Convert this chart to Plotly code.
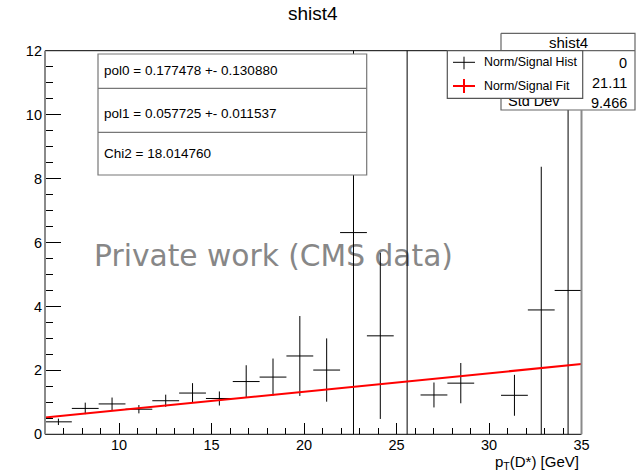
import plotly.graph_objects as go

# ---------------- data ----------------
bin_centers = [6.725, 8.175, 9.625, 11.075, 12.525, 13.975, 15.425, 16.875, 18.325, 19.775,
               21.225, 22.675, 24.125, 25.575, 27.025, 28.475, 29.925, 31.375, 32.825, 34.275]
bin_values = [0.39, 0.81, 0.95, 0.785, 1.05, 1.29, 1.12, 1.65, 1.79, 2.45,
              2.01, 6.31, 3.08, 16.0, 1.23, 1.60, None, 1.22, 3.89, 4.50]
bin_errors = [0.10, 0.18, 0.20, 0.13, 0.19, 0.31, 0.22, 0.51, 0.58, 1.25,
              0.99, 6.6, 2.6, 17.0, 0.39, 0.63, 0, 0.64, 4.48, 8.0]
bin_half_width = 0.725

pol0 = 0.177478
pol0_err = 0.130880
pol1 = 0.057725
pol1_err = 0.011537
chi2 = 18.014760
fit_x = [6, 35]
fit_y = [pol0 + pol1 * x for x in fit_x]

stats_name = "shist4"
stats_labels = ["Entries", "Mean", "Std Dev"]
stats_values = ["0", "21.11", "9.466"]

x_range = [6, 35]
y_range = [0, 12]

# ---------------- geometry helpers (pixels -> paper) ----------------
W, H = 641, 472
def px(x):
    return x / W
def py(y):
    return 1 - y / H

L, R, T, B = 45, 581.5, 50.7, 434.3
FONT = "Liberation Sans, Arial, Helvetica, sans-serif"
SB = dict(x0=501, y0=33.3, x1=635, y1=110)   # stats box (pixels)

fig = go.Figure()

# --- bottom overlay (pixel coords): watermark, below the data
fig.add_trace(go.Scatter(
    x=[273.5], y=[259], mode="text", text=["Private work (CMS data)"],
    textposition="middle center",
    textfont=dict(family="DejaVu Sans", size=29.7, color="#878787"),
    xaxis="x", yaxis="y", showlegend=False, hoverinfo="skip"))

# --- data subplot
fig.add_trace(go.Scatter(
    x=bin_centers, y=bin_values, mode="markers",
    marker=dict(size=0.1, color="black"),
    error_x=dict(type="constant", value=bin_half_width, width=0, thickness=1, color="black"),
    error_y=dict(type="data", array=bin_errors, width=0, thickness=1, color="black"),
    xaxis="x2", yaxis="y2", showlegend=False, hoverinfo="skip"))
fig.add_trace(go.Scatter(
    x=fit_x, y=fit_y, mode="lines", line=dict(color="#ff0000", width=2),
    xaxis="x2", yaxis="y2", showlegend=False, hoverinfo="skip"))

# --- top overlay (pixel coords): stats box, above the data, below legend
fig.add_trace(go.Scatter(
    x=[SB["x0"], SB["x1"], SB["x1"], SB["x0"], SB["x0"]],
    y=[SB["y0"], SB["y0"], SB["y1"], SB["y1"], SB["y0"]],
    mode="lines", fill="toself", fillcolor="white",
    line=dict(color="#666", width=1.2),
    xaxis="x3", yaxis="y3", showlegend=False, hoverinfo="skip"))
fig.add_trace(go.Scatter(
    x=[SB["x0"], SB["x1"]], y=[50.7, 50.7], mode="lines",
    line=dict(color="#666", width=1.2),
    xaxis="x3", yaxis="y3", showlegend=False, hoverinfo="skip"))
fig.add_trace(go.Scatter(
    x=[508, 508, 508], y=[63, 82.5, 102.5], mode="text", text=stats_labels,
    textposition="middle right",
    textfont=dict(family=FONT, size=14.5, color="black"),
    xaxis="x3", yaxis="y3", showlegend=False, hoverinfo="skip"))

shapes = []
def line(x0, y0, x1, y1, color="black", width=1):
    shapes.append(dict(type="line", xref="paper", yref="paper",
                       x0=px(x0), y0=py(y0), x1=px(x1), y1=py(y1),
                       line=dict(color=color, width=width), layer="above"))
def rect(x0, y0, x1, y1, color="#666", width=1.2):
    shapes.append(dict(type="rect", xref="paper", yref="paper",
                       x0=px(x0), y0=py(y0), x1=px(x1), y1=py(y1),
                       line=dict(color=color, width=width), fillcolor="white", layer="above"))

# frame (parts hidden by the stats box are not drawn)
line(L, T, SB["x0"], T, "black", 1)
line(L, B, R, B, "black", 1)
line(L, T, L, B, "#8a8a8a", 2)
line(R, SB["y1"], R, B, "#8a8a8a", 2)

# legend box
rect(447.3, 50.7, 582.7, 98.3, "#555", 1.2)
line(453, 62.3, 475, 62.3, "black", 1)
line(464, 56.7, 464, 69.3, "black", 1)
line(453, 86, 475, 86, "#ff0000", 2)
line(464, 79, 464, 93, "#ff0000", 2)
# fit parameter box
rect(98, 54, 366.7, 175, "#777", 1.2)
line(98, 88.3, 366.7, 88.3, "#777", 1.2)
line(98, 132.3, 366.7, 132.3, "#777", 1.2)

ann = []
def text(x, y, s, size, xanchor="left", color="black", family=FONT):
    ann.append(dict(xref="paper", yref="paper", x=px(x), y=py(y), text=s,
                    showarrow=False, xanchor=xanchor, yanchor="middle",
                    font=dict(family=family, size=size, color=color)))

text(313, 13, "shist4", 19, "center")
text(568, 42.5, stats_name, 15, "center")
for yv, v in zip([63, 82.5, 102.5], stats_values):
    text(629, yv, v, 14.5, "right")
text(482, 62.3, "Norm/Signal Hist", 12.4)
text(482, 86, "Norm/Signal Fit", 12.4)
text(102, 70.5, f"pol0 = {pol0:.6f} +- {pol0_err:.6f}", 13.5)
text(102, 113, f"pol1 = {pol1:.6f} +- {pol1_err:.6f}", 13.5)
text(102, 153.5, f"Chi2 = {chi2:.6f}", 13.5)
text(581, 462, "p<sub>T</sub>(D*) [GeV]", 15, "right")

pix_x = dict(domain=[0, 1], range=[0, W], visible=False, fixedrange=True, automargin=False)
pix_y = dict(domain=[0, 1], range=[H, 0], visible=False, fixedrange=True, automargin=False)

fig.update_layout(
    width=W, height=H, autosize=False,
    margin=dict(l=0, r=0, t=0, b=0, pad=0, autoexpand=False),
    paper_bgcolor="white", plot_bgcolor="rgba(0,0,0,0)",
    showlegend=False,
    shapes=shapes, annotations=ann,
    xaxis=dict(pix_x, anchor="y"),
    yaxis=dict(pix_y, anchor="x"),
    xaxis3=dict(pix_x, anchor="y3"),
    yaxis3=dict(pix_y, anchor="x3"),
    xaxis2=dict(domain=[px(L), px(R)], range=x_range, anchor="y2", automargin=False,
                showgrid=False, zeroline=False, showline=False,
                ticks="inside", ticklen=11, tickwidth=1, tickcolor="black",
                tick0=0, dtick=5,
                minor=dict(ticks="inside", ticklen=6, dtick=1, tick0=0, tickcolor="black", showgrid=False),
                tickfont=dict(family=FONT, size=14.5, color="black")),
    yaxis2=dict(domain=[py(B), py(T)], range=y_range, anchor="x2", automargin=False,
                showgrid=False, zeroline=False, showline=False,
                ticks="inside", ticklen=16, tickwidth=1, tickcolor="black",
                tick0=0, dtick=2, ticklabelstandoff=2,
                minor=dict(ticks="inside", ticklen=8, dtick=0.5, tick0=0, tickcolor="black", showgrid=False),
                tickfont=dict(family=FONT, size=14.5, color="black")),
)

fig.write_html("out.html", config={"displayModeBar": False},
               post_script="document.body.style.margin='0';")
